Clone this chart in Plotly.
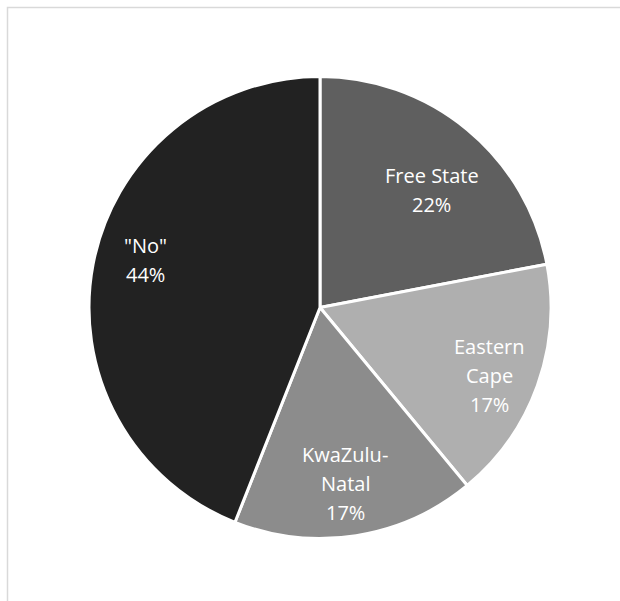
import math
import plotly.graph_objects as go

# ---- data ----
labels = ["Free State", "Eastern Cape", "KwaZulu-Natal", '"No"']
label_lines = [["Free State"], ["Eastern", "Cape"], ["KwaZulu-", "Natal"], ['"No"']]
values = [22, 17, 17, 44]

# ---- style ----
colors = ["#5f5f5f", "#afafaf", "#8c8c8c", "#222222"]
label_radius = [0.70, 0.79, 0.77, 0.785]   # fraction of pie radius for label centre
label_angle_adj = [4.0, 2.0, 0.9, 4.4]      # degrees, clockwise nudge from mid-angle
W, H = 620, 601
cx, cy, R = 320, 307.5, 231
font_family = "Open Sans"
font_size = 20
line_gap = 29

fig = go.Figure(go.Pie(
    labels=labels,
    values=values,
    sort=False,
    direction="clockwise",
    rotation=0,
    textinfo="none",
    hoverinfo="skip",
    marker=dict(colors=colors, line=dict(color="white", width=3)),
    domain=dict(x=[(cx - R) / W, (cx + R) / W], y=[1 - (cy + R) / H, 1 - (cy - R) / H]),
    showlegend=False,
))

# labels placed around each slice's mid-angle
total = sum(values)
cum = 0
annotations = []
for i, v in enumerate(values):
    mid = (cum + v / 2) / total * 2 * math.pi + math.radians(label_angle_adj[i])
    cum += v
    r = label_radius[i] * R
    px = cx + r * math.sin(mid)
    py = cy - r * math.cos(mid)
    pct = f"{round(v / total * 100)}%"
    lines = label_lines[i] + [pct]
    n = len(lines)
    for k, txt in enumerate(lines):
        off = (k - (n - 1) / 2) * line_gap
        annotations.append(dict(
            x=px / W, y=1 - (py + off) / H, xref="paper", yref="paper",
            text=txt, showarrow=False, xanchor="center", yanchor="middle",
            font=dict(family=font_family, size=font_size, color="white"),
        ))

fig.update_layout(
    width=W, height=H,
    margin=dict(l=0, r=0, t=0, b=0),
    paper_bgcolor="white",
    plot_bgcolor="white",
    annotations=annotations,
    shapes=[dict(type="rect", xref="paper", yref="paper",
                 x0=7.5 / W, x1=1.2, y0=-0.2, y1=1 - 7.5 / H,
                 line=dict(color="#d9d9d9", width=1.5), fillcolor="rgba(0,0,0,0)")],
)

fig.write_html("out.html")
